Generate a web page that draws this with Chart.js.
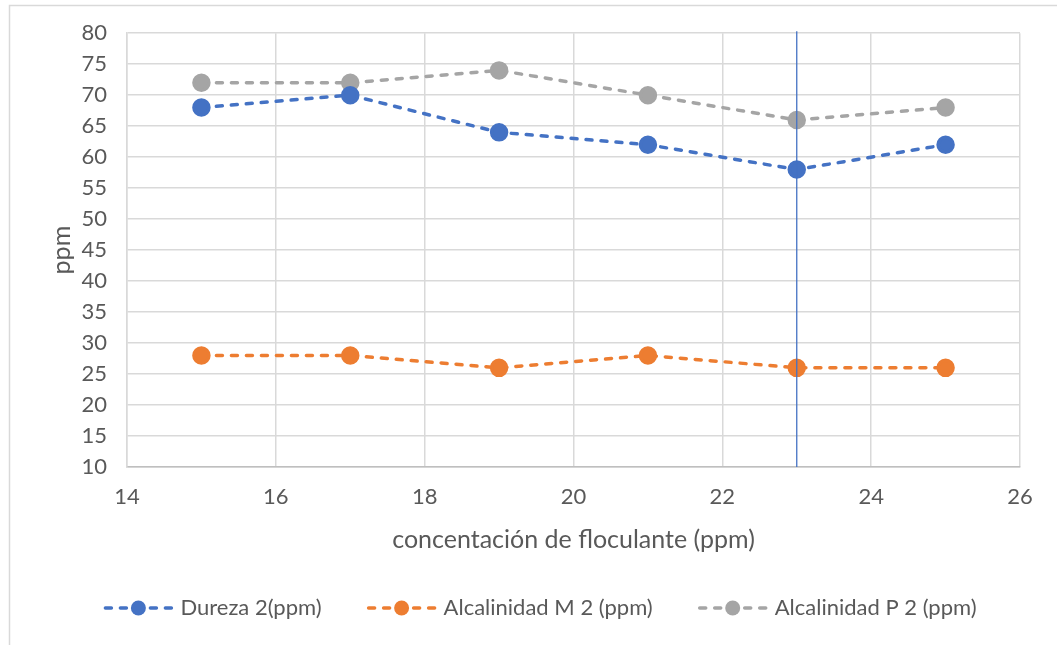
<!DOCTYPE html>
<html>
<head>
<meta charset="utf-8">
<script src="https://cdn.jsdelivr.net/npm/chart.js@4"></script>
<style>
html,body{margin:0;padding:0;background:#fff;}
#wrap{width:1057px;height:645px;position:relative;}
</style>
</head>
<body>
<div id="wrap"><canvas id="c" width="1057" height="645"></canvas></div>
<script>
const concentrations = [15, 17, 19, 21, 23, 25];
const dureza = [68, 70, 64, 62, 58, 62];
const alcalinidadM = [28, 28, 26, 28, 26, 26];
const alcalinidadP = [72, 72, 74, 70, 66, 68];
const seriesNames = ['Dureza 2(ppm)', 'Alcalinidad M 2 (ppm)', 'Alcalinidad P 2 (ppm)'];
const seriesColors = ['#4472C4', '#ED7D31', '#A5A5A5'];
const markerLineX = 23;
const markerLineY = [10, 80.3];
const xTitle = 'concentación de floculante (ppm)';
const yTitle = 'ppm';

const FONT = 'Lato, "Open Sans", sans-serif';
const TEXT = '#595959';

function pts(vals){ return concentrations.map((x,i)=>({x:x,y:vals[i]})); }
function series(name, vals, color){
  return {
    label: name, data: pts(vals), borderColor: color, backgroundColor: color,
    borderWidth: 3.5, borderDash: [6, 9], borderCapStyle: 'round',
    pointRadius: 7.5, pointHoverRadius: 7.5, pointBackgroundColor: color, pointBorderColor: color,
    tension: 0, fill: false, isSeries: true
  };
}

const frame = {
  id: 'frame',
  beforeDraw(chart){
    const ctx = chart.ctx;
    ctx.save();
    ctx.strokeStyle = '#d9d9d9'; ctx.lineWidth = 1.5;
    ctx.beginPath();
    ctx.moveTo(9.5, 645); ctx.lineTo(9.5, 5.5); ctx.lineTo(1057, 5.5);
    ctx.stroke();
    ctx.restore();
  }
};

const legendPlugin = {
  id: 'customLegend',
  afterDraw(chart){
    const ctx = chart.ctx;
    ctx.save();
    ctx.font = '22px ' + FONT;
    const lineW = 70, gapText = 7, gapItem = 45;
    const items = chart.data.datasets.filter(d=>d.isSeries);
    const widths = items.map(d=>lineW + gapText + ctx.measureText(d.label).width);
    const total = widths.reduce((a,b)=>a+b,0) + gapItem*(items.length-1);
    let x = 540 - total/2;
    const y = 608;
    items.forEach((d,i)=>{
      ctx.strokeStyle = d.borderColor; ctx.lineWidth = 3.5;
      ctx.setLineDash([6,9]); ctx.lineCap = 'round';
      ctx.beginPath(); ctx.moveTo(x+2, y); ctx.lineTo(x+lineW-2, y); ctx.stroke();
      ctx.setLineDash([]);
      ctx.fillStyle = d.borderColor;
      ctx.beginPath(); ctx.arc(x+lineW/2, y, 7.5, 0, Math.PI*2); ctx.fill();
      ctx.fillStyle = TEXT; ctx.textBaseline = 'middle'; ctx.textAlign = 'left';
      ctx.fillText(d.label, x+lineW+gapText, y);
      x += widths[i] + gapItem;
    });
    ctx.restore();
  }
};

new Chart(document.getElementById('c'), {
  type: 'line',
  data: {
    datasets: [
      series(seriesNames[0], dureza, seriesColors[0]),
      series(seriesNames[1], alcalinidadM, seriesColors[1]),
      series(seriesNames[2], alcalinidadP, seriesColors[2]),
      {
        label: 'marker', data: markerLineY.map(y=>({x:markerLineX, y:y})),
        borderColor: '#4472C4', borderWidth: 1.3, pointRadius: 0, pointHoverRadius: 0,
        fill: false, clip: false, order: -1
      }
    ]
  },
  options: {
    responsive: false, animation: false,
    layout: { padding: { left: 43, right: 37, top: 33, bottom: 88 } },
    plugins: { legend: { display: false }, tooltip: { enabled: false } },
    scales: {
      x: {
        type: 'linear', min: 14, max: 26,
        ticks: { stepSize: 2, color: TEXT, font: { family: FONT, size: 22 }, padding: 17, maxRotation: 0 },
        grid: { color: '#d9d9d9', lineWidth: 1.5, drawTicks: false },
        border: { color: '#bfbfbf', width: 1.5 },
        title: { display: true, text: xTitle, color: TEXT, font: { family: FONT, size: 25 }, padding: { top: 4, bottom: 2 } },
        afterFit(s){ s.height = 90; }
      },
      y: {
        min: 10, max: 80,
        ticks: { stepSize: 5, color: TEXT, font: { family: FONT, size: 22 }, padding: 20 },
        grid: { color: '#d9d9d9', lineWidth: 1.5, drawTicks: false },
        border: { color: '#d9d9d9', width: 1.5 },
        title: { display: true, text: yTitle, color: TEXT, font: { family: FONT, size: 25 }, padding: { top: 4, bottom: 4 } },
        afterFit(s){ s.width = 84; }
      }
    }
  },
  plugins: [frame, legendPlugin]
});
</script>
</body>
</html>
